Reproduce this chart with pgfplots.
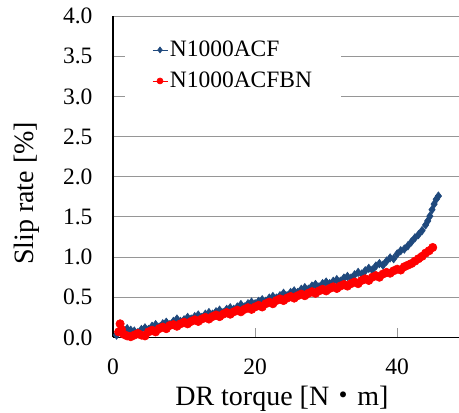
\documentclass[border=0pt]{standalone}
\usepackage{fontspec}
\setmainfont{Liberation Serif}
\newfontfamily\cjk{Noto Sans CJK JP}
\usepackage{pgfplots}
\pgfplotsset{compat=1.18}
\definecolor{bl}{RGB}{31,73,125}
\definecolor{rd}{RGB}{255,0,0}
\definecolor{gr}{RGB}{150,150,150}
\begin{document}
\begin{tikzpicture}
\useasboundingbox (-113pt,-75pt) rectangle (346pt,337.5pt);
\begin{axis}[
  scale only axis, width=346pt, height=321.5pt,
  xmin=0, xmax=48.7, ymin=0, ymax=4,
  axis x line*=bottom, axis y line*=left,
  axis line style={black, line width=1.2pt, -},
  xtick={0,20,40}, ytick={0,0.5,1,1.5,2,2.5,3,3.5,4},
  ymajorgrids, grid style={gr, line width=1pt},
  tick align=inside, major tick length=9pt,
  tick style={gr, line width=1pt},
  /pgf/number format/assume math mode=true,
  tick label style={font=\fontsize{23.5}{28}\selectfont},
  yticklabel style={/pgf/number format/.cd, fixed, fixed zerofill, precision=1, /tikz/.cd, xshift=-17pt},
  xticklabel style={anchor=base, yshift=-37pt},
  label style={font=\fontsize{28}{32}\selectfont},
  xlabel={DR torque [N{\cjk ・}m]},
  ylabel={Slip rate [\%]},
  xlabel style={at={(axis description cs:0.488,-0.2115)}, anchor=base},
  ylabel style={at={(axis description cs:-0.231,0.448)}, anchor=base},
  legend style={at={(axis cs:1.69,3.81)}, anchor=north west, draw=none, fill=white,
    font=\fontsize{23.5}{28}\selectfont, inner xsep=27pt, inner ysep=6pt, row sep=6pt,
    nodes={inner sep=2pt, text height=17pt, text depth=4pt}},
  legend cell align=left,
  legend image code/.code={\draw[mark repeat=2, mark phase=2, #1, mark size=3pt] plot coordinates {(0pt,0pt) (7.5pt,0pt) (15pt,0pt)};},
]
\addplot[bl, line width=0.6pt, mark=diamond*, mark size=4.2pt, mark options={solid}] coordinates {
(0.5,0.03) (1.0,0.08) (1.5,0.05) (2.0,0.11) (2.5,0.09) (3.0,0.08) (3.5,0.06) (4.0,0.10)
(4.5,0.12) (5.0,0.10) (5.5,0.14) (6.0,0.16) (6.5,0.13) (7.0,0.17) (7.5,0.19) (8.0,0.16)
(8.5,0.20) (9.0,0.23) (9.5,0.20) (10.0,0.22) (10.5,0.25) (11.0,0.23) (11.5,0.26) (12.0,0.28)
(12.5,0.25) (13.0,0.29) (13.5,0.31) (14.0,0.29) (14.5,0.32) (15.0,0.34) (15.5,0.31) (16.0,0.35)
(16.5,0.37) (17.0,0.35) (17.5,0.38) (18.0,0.41) (18.5,0.38) (19.0,0.42) (19.5,0.44) (20.0,0.42)
(20.5,0.45) (21.0,0.47) (21.5,0.45) (22.0,0.49) (22.5,0.51) (23.0,0.49) (23.5,0.52) (24.0,0.55)
(24.5,0.52) (25.0,0.56) (25.5,0.58) (26.0,0.56) (26.5,0.60) (27.0,0.62) (27.5,0.60) (28.0,0.64)
(28.5,0.66) (29.0,0.63) (29.5,0.67) (30.0,0.69) (30.5,0.67) (31.0,0.70) (31.5,0.72) (32.0,0.70)
(32.5,0.74) (33.0,0.76) (33.5,0.74) (34.0,0.78) (34.5,0.81) (35.0,0.79) (35.5,0.83) (36.0,0.86)
(36.5,0.84) (37.0,0.89) (37.5,0.92) (38.0,0.90) (38.5,0.95) (39.0,0.99) (39.5,0.98) (40.0,1.04)
(40.5,1.08) (41.0,1.10) (41.5,1.14) (42.0,1.19) (42.5,1.24) (43.0,1.28) (43.5,1.33) (44.0,1.40)
(44.3,1.45) (44.6,1.51) (44.9,1.59) (45.2,1.66) (45.5,1.72) (45.8,1.76)
};
\addlegendentry{N1000ACF}
\addplot[rd, line width=0.6pt, mark=*, mark size=4.2pt, mark options={solid}] coordinates {
(0.8,0.07) (1.0,0.17) (1.2,0.10) (1.5,0.04) (2.0,0.02) (2.5,0.01) (3.0,0.03) (3.5,0.05)
(4.0,0.03) (4.5,0.02) (5.0,0.07) (5.5,0.09) (6.0,0.07) (6.5,0.11) (7.0,0.13) (7.5,0.11)
(8.0,0.15) (8.5,0.16) (9.0,0.14) (9.5,0.17) (10.0,0.19) (10.5,0.17) (11.0,0.20) (11.5,0.22)
(12.0,0.20) (12.5,0.23) (13.0,0.25) (13.5,0.23) (14.0,0.26) (14.5,0.28) (15.0,0.26) (15.5,0.29)
(16.0,0.31) (16.5,0.29) (17.0,0.32) (17.5,0.34) (18.0,0.32) (18.5,0.35) (19.0,0.37) (19.5,0.35)
(20.0,0.38) (20.5,0.40) (21.0,0.38) (21.5,0.42) (22.0,0.44) (22.5,0.42) (23.0,0.46) (23.5,0.48)
(24.0,0.46) (24.5,0.49) (25.0,0.51) (25.5,0.49) (26.0,0.52) (26.5,0.54) (27.0,0.52) (27.5,0.55)
(28.0,0.57) (28.5,0.55) (29.0,0.58) (29.5,0.60) (30.0,0.58) (30.5,0.61) (31.0,0.63) (31.5,0.61)
(32.0,0.64) (32.5,0.66) (33.0,0.64) (33.5,0.67) (34.0,0.69) (34.5,0.67) (35.0,0.71) (35.5,0.73)
(36.0,0.71) (36.5,0.75) (37.0,0.77) (37.5,0.75) (38.0,0.79) (38.5,0.81) (39.0,0.80) (39.5,0.83)
(40.0,0.85) (40.5,0.84) (41.0,0.88) (41.5,0.90) (42.0,0.92) (42.5,0.95) (43.0,0.98) (43.5,1.01)
(44.0,1.05) (44.5,1.08) (45.0,1.12)
};
\addlegendentry{N1000ACFBN}
\end{axis}
\end{tikzpicture}
\end{document}
